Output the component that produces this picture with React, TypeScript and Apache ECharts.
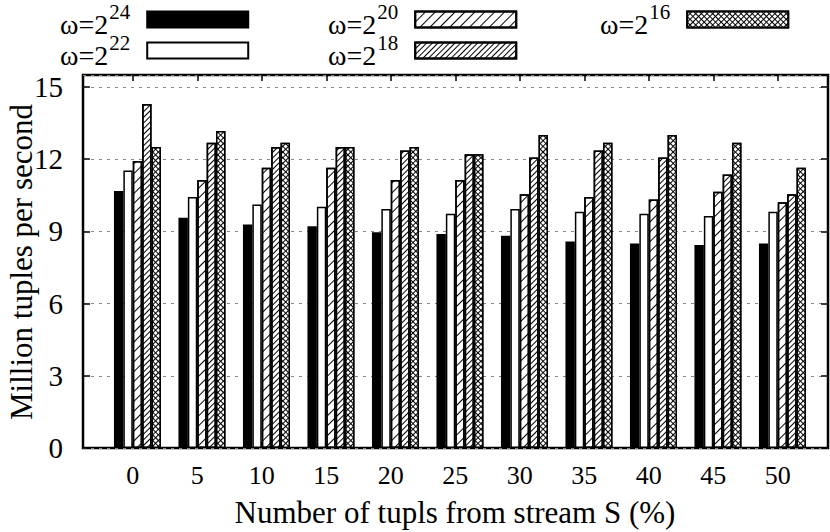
import React, { useEffect, useRef } from 'react';
import * as echarts from 'echarts';

// x categories: share of tuples from stream S (%)
const categories = ['0', '5', '10', '15', '20', '25', '30', '35', '40', '45', '50'];

// million tuples per second, one array per window size
const w24 = [10.68, 9.57, 9.29, 9.22, 8.97, 8.89, 8.82, 8.58, 8.5, 8.44, 8.5];
const w22 = [11.53, 10.43, 10.12, 10.03, 9.93, 9.73, 9.93, 9.82, 9.73, 9.64, 9.82];
const w20 = [11.93, 11.14, 11.65, 11.65, 11.14, 11.14, 10.54, 10.43, 10.33, 10.65, 10.21];
const w18 = [14.3, 12.68, 12.51, 12.51, 12.36, 12.21, 12.07, 12.36, 12.07, 11.37, 10.54];
const w16 = [12.51, 13.17, 12.68, 12.51, 12.51, 12.21, 13.01, 12.68, 13.01, 12.68, 11.65];

const seriesNames = ['ω=2^24', 'ω=2^22', 'ω=2^20', 'ω=2^18', 'ω=2^16'];

const yMax = 15.5;
const yStep = 3;

const FONT = 'Liberation Serif, Times New Roman, DejaVu Serif, serif';

const App: React.FC = () => {
  const chartRef = useRef<HTMLDivElement>(null);

  useEffect(() => {
    if (!chartRef.current) return;
    const chart = echarts.init(chartRef.current, null, { renderer: 'svg' });

    const border = { borderColor: '#000', borderWidth: 1.5 };

    const styles: any[] = [
      { color: '#000', ...border },
      { color: '#fff', ...border },
      {
        color: '#fff',
        ...border,
        decal: {
          symbol: 'rect',
          symbolSize: 1,
          color: '#000',
          dashArrayX: [1, 0],
          dashArrayY: [1, 6],
          rotation: -Math.PI / 4
        }
      },
      {
        color: '#fff',
        ...border,
        decal: {
          symbol: 'rect',
          symbolSize: 1,
          color: '#000',
          dashArrayX: [1, 0],
          dashArrayY: [1, 2.2],
          rotation: -Math.PI / 4
        }
      },
      {
        color: '#000',
        ...border,
        decal: {
          symbol: 'rect',
          symbolSize: 1,
          color: '#fff',
          dashArrayX: [2.4, 1],
          dashArrayY: [2.4, 1],
          rotation: Math.PI / 4
        }
      }
    ];

    const values = [w24, w22, w20, w18, w16];

    const legendFormatter = (name: string) => `{b|ω=2}{s|${name.slice(4)}}`;
    const legendText = {
      fontFamily: FONT,
      color: '#000',
      rich: {
        b: { fontSize: 28, fontFamily: FONT, color: '#000', padding: [9, 0, 0, 0] },
        s: { fontSize: 21, fontFamily: FONT, color: '#000', verticalAlign: 'top', padding: [0, 12, 0, 1] }
      }
    };
    const makeLegend = (left: number, data: string[]) => ({
      left,
      top: 1,
      padding: 0,
      orient: 'vertical',
      align: 'right',
      icon: 'rect',
      itemWidth: 101,
      itemHeight: 16,
      itemGap: -6,
      selectedMode: false,
      formatter: legendFormatter,
      textStyle: legendText,
      data
    });

    const option: any = {
      animation: false,
      backgroundColor: '#fff',
      textStyle: { fontFamily: FONT },
      legend: [
        makeLegend(60, [seriesNames[0], seriesNames[1]]),
        makeLegend(328, [seriesNames[2], seriesNames[3]]),
        makeLegend(600, [seriesNames[4]])
      ],
      grid: [
        { left: 83, right: 2, top: 75, bottom: 84, show: true, borderColor: '#000', borderWidth: 2.5, backgroundColor: 'transparent' },
        { left: 100.5, right: 20, top: 75, bottom: 84 }
      ],
      xAxis: [
        { gridIndex: 0, type: 'value', min: 0, max: 1, show: false },
        {
          gridIndex: 1,
          type: 'category',
          position: 'bottom',
          data: categories,
          axisLine: { show: false },
          axisTick: { show: true, inside: true, length: 6, alignWithLabel: true, lineStyle: { color: '#000', width: 1.5 } },
          axisLabel: { color: '#000', fontSize: 26, fontFamily: FONT, margin: 14 }
        },
        {
          gridIndex: 1,
          type: 'category',
          position: 'top',
          data: categories,
          axisLine: { show: false },
          axisTick: { show: true, inside: true, length: 6, alignWithLabel: true, lineStyle: { color: '#000', width: 1.5 } },
          axisLabel: { show: false }
        }
      ],
      yAxis: [
        {
          gridIndex: 0,
          type: 'value',
          position: 'left',
          min: 0,
          max: yMax,
          interval: yStep,
          axisLine: { show: false },
          axisTick: { show: true, inside: true, length: 7, lineStyle: { color: '#000', width: 1.5 } },
          axisLabel: { color: '#000', fontSize: 29, fontFamily: FONT, margin: 20, showMaxLabel: false },
          splitLine: { show: true, lineStyle: { color: '#888', type: [3, 5], width: 1.2 } }
        },
        {
          gridIndex: 0,
          type: 'value',
          position: 'right',
          min: 0,
          max: yMax,
          interval: yStep,
          axisLine: { show: false },
          axisTick: { show: true, inside: true, length: 7, lineStyle: { color: '#000', width: 1.5 } },
          axisLabel: { show: false },
          splitLine: { show: false }
        },
        { gridIndex: 1, type: 'value', min: 0, max: yMax, show: false }
      ],
      graphic: [
        {
          type: 'text',
          x: 21,
          y: 262,
          rotation: Math.PI / 2,
          style: { text: 'Million tuples per second', fontSize: 31, fontFamily: FONT, fill: '#000', align: 'center', verticalAlign: 'middle' }
        },
        {
          type: 'text',
          x: 455,
          y: 512,
          style: { text: 'Number of tupls from stream S (%)', fontSize: 31, fontFamily: FONT, fill: '#000', align: 'center', verticalAlign: 'middle' }
        }
      ],
      series: [
        {
          // empty slot: shifts each cluster half a bar to the right, as in the source
          name: 'gap',
          type: 'bar',
          xAxisIndex: 1,
          yAxisIndex: 2,
          barWidth: 9.4,
          barGap: '0%',
          data: categories.map(() => null)
        },
        ...values.map((data, i) => ({
          name: seriesNames[i],
          type: 'bar',
          xAxisIndex: 1,
          yAxisIndex: 2,
          barWidth: 9.4,
          barGap: '0%',
          itemStyle: styles[i],
          data
        }))
      ]
    };

    chart.setOption(option);
    return () => {
      chart.dispose();
    };
  }, []);

  return (
    <div
      ref={chartRef}
      style={{ position: 'fixed', left: 0, top: 0, width: 830, height: 532 }}
    />
  );
};

export default App;
